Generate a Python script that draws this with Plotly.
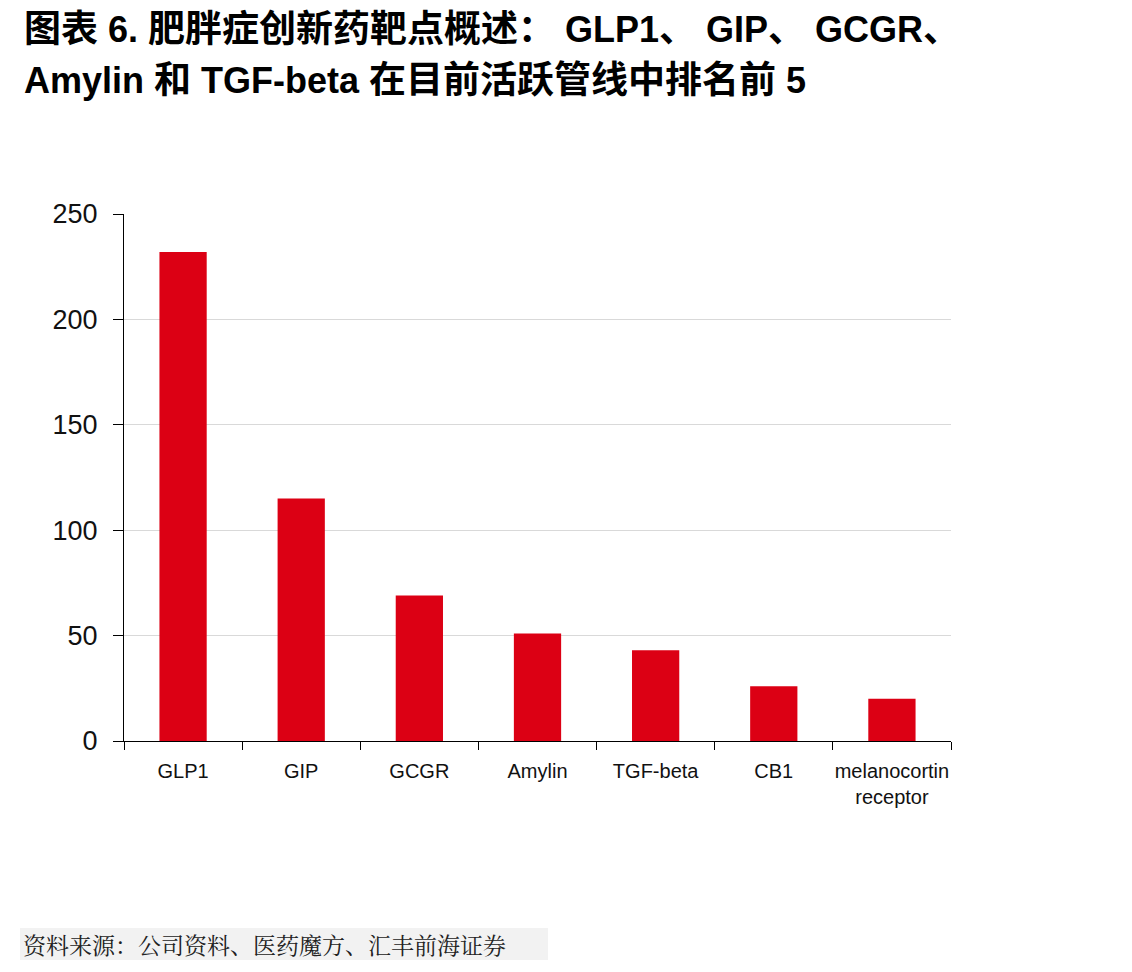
import plotly.graph_objects as go

categories = ["GLP1", "GIP", "GCGR", "Amylin", "TGF-beta", "CB1", "melanocortin<br>receptor"]
values = [232, 115, 69, 51, 43, 26, 20]
y_ticks = [0, 50, 100, 150, 200, 250]

title_line1 = "图表 6. 肥胖症创新药靶点概述： GLP1、 GIP、 GCGR、"
title_line2 = "Amylin 和 TGF-beta 在目前活跃管线中排名前 5"
source_text = "资料来源：公司资料、医药魔方、汇丰前海证券"

W, H = 1132, 972
L, R, T, B = 124, 951, 214, 741

LATIN = "Liberation Sans, Arial, sans-serif"
CJK = "Noto Sans CJK SC, sans-serif"


def mixed(text, latin_size, cjk_size):
    out, run, run_cjk = [], "", None
    for ch in text:
        is_cjk = ord(ch) > 0x2E80
        if run and is_cjk != run_cjk:
            out.append((run, run_cjk))
            run = ""
        run += ch
        run_cjk = is_cjk
    if run:
        out.append((run, run_cjk))
    parts = []
    for seg, c in out:
        fam = CJK if c else LATIN
        sz = cjk_size if c else latin_size
        parts.append(f'<span style="font-family:{fam};font-size:{sz}px">{seg}</span>')
    return "<b>" + "".join(parts) + "</b>"


fig = go.Figure(go.Bar(x=categories, y=values, marker_color="#DC0014",
                       marker_line_width=0, width=0.4))

fig.update_layout(
    width=W, height=H,
    margin=dict(l=L, r=W - R, t=T, b=H - B, pad=0),
    plot_bgcolor="white", paper_bgcolor="white",
    showlegend=False,
    xaxis=dict(showline=True, linecolor="#000", linewidth=1,
               ticks="outside", ticklen=8, tickcolor="#000", tickson="boundaries",
               tickfont=dict(family=LATIN, size=20, color="#111"), tickangle=0,
               showgrid=False, ticklabelstandoff=12),
    yaxis=dict(range=[0, 250], tickvals=y_ticks, showline=True, linecolor="#000",
               linewidth=1, ticks="outside", ticklen=10, tickcolor="#000",
               tickfont=dict(family=LATIN, size=27, color="#111"),
               showgrid=True, gridcolor="#D9D9D9", gridwidth=1, zeroline=False,
               ticklabelstandoff=10),
)


def px_x(x):
    return (x - L) / (R - L)


def px_y(y):
    return (B - y) / (B - T)


fig.add_annotation(text=mixed(title_line1, 36, 37), xref="paper", yref="paper",
                   x=px_x(22), y=px_y(26), xanchor="left", yanchor="middle",
                   showarrow=False, font=dict(family=LATIN, size=36, color="#000"))
fig.add_annotation(text=mixed(title_line2, 36, 37), xref="paper", yref="paper",
                   x=px_x(22), y=px_y(77), xanchor="left", yanchor="middle",
                   showarrow=False, font=dict(family=LATIN, size=36, color="#000"))
fig.add_shape(type="rect", xref="paper", yref="paper",
              x0=px_x(20), x1=px_x(548), y0=px_y(928), y1=px_y(960),
              fillcolor="#F2F2F2", line_width=0, layer="below")
fig.add_annotation(text=source_text, xref="paper", yref="paper",
                   x=px_x(21), y=px_y(944), xanchor="left", yanchor="middle",
                   showarrow=False,
                   font=dict(family="Noto Serif CJK SC, Noto Sans CJK SC, serif", size=23, color="#222"))

fig.write_html("out.html")
